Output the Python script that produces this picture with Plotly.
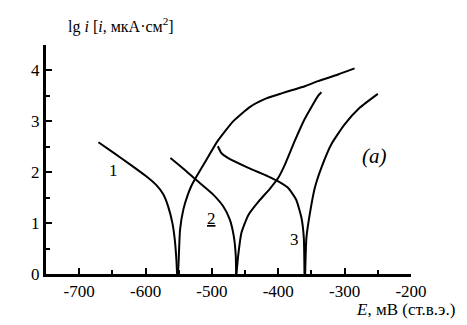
import plotly.graph_objects as go

# Curve 1
c1_cat_E = [-671, -649, -624, -599, -584, -573.5, -566, -559.5, -556, -553.5, -552.5]
c1_cat_lg = [2.59, 2.39, 2.16, 1.92, 1.75, 1.57, 1.33, 1.0, 0.68, 0.28, 0.0]
c1_an_E = [-551.5, -550.5, -548, -543, -536, -531, -523, -508, -491, -468, -443, -418, -395, -380, -360, -340, -310, -285]
c1_an_lg = [0.0, 0.15, 0.87, 1.27, 1.57, 1.73, 1.92, 2.25, 2.62, 3.0, 3.28, 3.45, 3.55, 3.61, 3.69, 3.79, 3.92, 4.04]
# Curve 2
c2_cat_E = [-562.5, -543, -523, -498, -483, -473, -467, -464, -463.5]
c2_cat_lg = [2.28, 2.07, 1.84, 1.56, 1.33, 1.07, 0.74, 0.35, 0.0]
c2_an_E = [-463, -460.5, -455.5, -445, -428, -413, -400, -390, -375, -360, -340, -335]
c2_an_lg = [0.0, 0.35, 0.81, 1.16, 1.45, 1.67, 1.89, 2.15, 2.62, 3.05, 3.50, 3.57]
# Curve 3
c3_cat_E = [-491, -486, -476, -446, -415.5, -400, -385, -373, -365, -361.5, -360.5]
c3_cat_lg = [2.51, 2.38, 2.28, 2.09, 1.92, 1.82, 1.69, 1.46, 1.10, 0.71, 0.0]
c3_an_E = [-359.5, -357.6, -352.6, -345, -335, -320, -300, -277, -250]
c3_an_lg = [0.0, 0.71, 1.17, 1.69, 2.09, 2.55, 2.94, 3.27, 3.54]

x_ticks = [-700, -600, -500, -400, -300, -200]
x_ticktext = ["-700", "-600", "-500", "-400", "-300", "-200"]
y_ticks = [0, 1, 2, 3, 4]

labels = [("1", -649, 2.03), ("<u>2</u>", -500, 1.1), ("3", -375, 0.67)]

FONT = "Liberation Serif"

fig = go.Figure()
for xs, ys in [(c1_cat_E, c1_cat_lg), (c1_an_E, c1_an_lg),
               (c2_cat_E, c2_cat_lg), (c2_an_E, c2_an_lg),
               (c3_cat_E, c3_cat_lg), (c3_an_E, c3_an_lg)]:
    fig.add_trace(go.Scatter(x=xs, y=ys, mode="lines",
                             line=dict(color="black", width=2, shape="spline", smoothing=0.5),
                             showlegend=False, hoverinfo="skip"))

for t, x, y in labels:
    fig.add_annotation(x=x, y=y, text=t, showarrow=False,
                       font=dict(family=FONT, size=17, color="black"))
fig.add_annotation(x=-255, y=2.32, text="<i>(a)</i>", showarrow=False,
                   font=dict(family=FONT, size=21, color="black"))

fig.add_annotation(xref="paper", yref="paper", x=0.205, y=1.0, yshift=7,
                   text="lg <i>i</i> [<i>i</i>, мкА·см<sup>2</sup>]", showarrow=False,
                   xanchor="center", yanchor="bottom",
                   font=dict(family=FONT, size=16, color="black"))
fig.add_annotation(xref="paper", yref="paper", x=0.985, y=0, yshift=-24,
                   text="<i>E</i>, мВ (ст.в.э.)", showarrow=False,
                   xanchor="center", yanchor="top",
                   font=dict(family=FONT, size=17, color="black"))

fig.update_xaxes(range=[-750, -200], showline=True, linecolor="black", linewidth=3,
                 ticks="inside", ticklen=6, tickwidth=2, tickcolor="black",
                 tickvals=x_ticks, ticktext=x_ticktext, showgrid=False, zeroline=False,
                 tickfont=dict(family=FONT, size=17, color="black"),
                 minor=dict(tickvals=[-650, -550, -450, -350, -250], ticks="inside",
                            ticklen=4, tickwidth=2, tickcolor="black", showgrid=False))
fig.update_yaxes(range=[0, 4.5], showline=True, linecolor="black", linewidth=3,
                 ticks="inside", ticklen=6, tickwidth=2, tickcolor="black",
                 tickvals=y_ticks, showgrid=False, zeroline=False,
                 tickfont=dict(family=FONT, size=17, color="black"),
                 minor=dict(tickvals=[0.5, 1.5, 2.5, 3.5, 4.5], ticks="inside",
                            ticklen=4, tickwidth=2, tickcolor="black", showgrid=False))

fig.update_layout(width=467, height=325, plot_bgcolor="white", paper_bgcolor="white",
                  margin=dict(l=38, r=64, t=37, b=59), showlegend=False)

fig.write_html("out.html")
